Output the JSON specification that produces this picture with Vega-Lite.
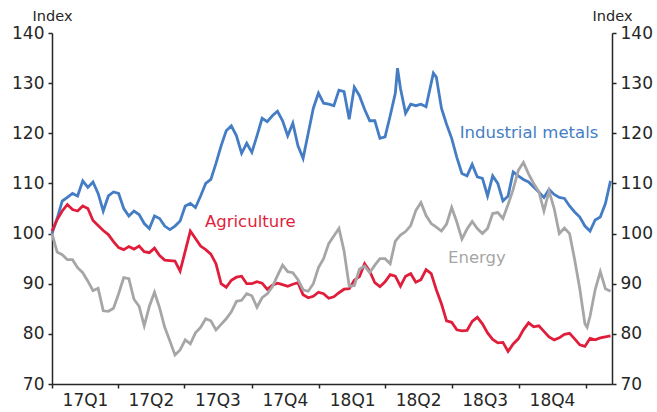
{
"$schema":"https://vega.github.io/schema/vega-lite/v6.json",
"width":560,"height":351,
"autosize":"none",
"padding":{"left":52,"top":33,"right":45,"bottom":28},
"background":"white",
"config":{"view":{"stroke":null},"font":"DejaVu Sans","axis":{"grid":false,"domainColor":"#262626","tickColor":"#262626","labelColor":"#262626","titleColor":"#262626","domainWidth":1.5,"tickWidth":1.5}},
"layer":[
{
"data":{"values":[
{"d":"2017-01-01","m":100,"a":100.5,"e":100},
{"d":"2017-01-08","m":103,"a":102.8,"e":96.3},
{"d":"2017-01-15","m":106.5,"a":104.5,"e":95.8},
{"d":"2017-01-22","m":107.2,"a":105.8,"e":94.8},
{"d":"2017-01-29","m":108,"a":104.8,"e":94.8},
{"d":"2017-02-05","m":107.5,"a":104.5,"e":93.2},
{"d":"2017-02-12","m":110.5,"a":105.5,"e":92.2},
{"d":"2017-02-19","m":109.2,"a":105,"e":90.5},
{"d":"2017-02-26","m":110.3,"a":102.6,"e":88.6},
{"d":"2017-03-05","m":108,"a":101.6,"e":89.1},
{"d":"2017-03-12","m":104.5,"a":100.6,"e":84.6},
{"d":"2017-03-19","m":107.5,"a":99.8,"e":84.5},
{"d":"2017-03-26","m":108.3,"a":98.4,"e":85.1},
{"d":"2017-04-02","m":108,"a":97.2,"e":88},
{"d":"2017-04-09","m":105,"a":96.8,"e":91.2},
{"d":"2017-04-16","m":103.5,"a":97.4,"e":91},
{"d":"2017-04-23","m":104.5,"a":96.9,"e":86.9},
{"d":"2017-04-30","m":103.8,"a":97.5,"e":85.5},
{"d":"2017-05-07","m":102,"a":96.4,"e":81.6},
{"d":"2017-05-14","m":101,"a":96.2,"e":85.5},
{"d":"2017-05-21","m":103.5,"a":97.1,"e":88.3},
{"d":"2017-05-28","m":103,"a":95.6,"e":85.2},
{"d":"2017-06-04","m":101.5,"a":94.7,"e":81.3},
{"d":"2017-06-11","m":100.8,"a":94.6,"e":78.6},
{"d":"2017-06-18","m":101.5,"a":94.5,"e":75.8},
{"d":"2017-06-25","m":102.5,"a":92.5,"e":76.8},
{"d":"2017-07-02","m":105.5,"a":96.5,"e":78.8},
{"d":"2017-07-09","m":106,"a":100.5,"e":78},
{"d":"2017-07-16","m":105.2,"a":99,"e":80.2},
{"d":"2017-07-23","m":107.5,"a":97.5,"e":81.3},
{"d":"2017-07-30","m":110,"a":96.8,"e":83},
{"d":"2017-08-06","m":110.8,"a":95.9,"e":82.6},
{"d":"2017-08-13","m":114,"a":94,"e":80.8},
{"d":"2017-08-20","m":117.5,"a":90,"e":81.9},
{"d":"2017-08-27","m":120.5,"a":89.3,"e":83},
{"d":"2017-09-03","m":121.5,"a":90.7,"e":84.4},
{"d":"2017-09-10","m":119.5,"a":91.3,"e":86.5},
{"d":"2017-09-17","m":116,"a":91.5,"e":86.7},
{"d":"2017-09-24","m":118,"a":90,"e":88},
{"d":"2017-10-01","m":116.2,"a":90,"e":87.6},
{"d":"2017-10-08","m":119.5,"a":90.4,"e":85.3},
{"d":"2017-10-15","m":123,"a":90.1,"e":87.2},
{"d":"2017-10-22","m":122.3,"a":88.9,"e":88},
{"d":"2017-10-29","m":123.5,"a":89.7,"e":89.4},
{"d":"2017-11-05","m":124.4,"a":90.1,"e":91.6},
{"d":"2017-11-12","m":122.5,"a":89.8,"e":93.7},
{"d":"2017-11-19","m":119.5,"a":89.5,"e":92.4},
{"d":"2017-11-26","m":122,"a":89.9,"e":92.2},
{"d":"2017-12-03","m":117.5,"a":90.2,"e":90.8},
{"d":"2017-12-10","m":115,"a":87.8,"e":88.8},
{"d":"2017-12-17","m":120,"a":87.2,"e":88.5},
{"d":"2017-12-24","m":125,"a":87.5,"e":90},
{"d":"2017-12-31","m":128,"a":88.3,"e":93.2},
{"d":"2018-01-07","m":126,"a":88,"e":95},
{"d":"2018-01-14","m":125.8,"a":87.1,"e":98},
{"d":"2018-01-21","m":125.5,"a":87.4,"e":99.5},
{"d":"2018-01-28","m":128.6,"a":88.2,"e":101},
{"d":"2018-02-04","m":128.3,"a":88.9,"e":96.5},
{"d":"2018-02-11","m":122.8,"a":89,"e":89.5},
{"d":"2018-02-18","m":129.2,"a":90.7,"e":89.6},
{"d":"2018-02-25","m":127.5,"a":91.4,"e":92.9},
{"d":"2018-03-04","m":124.8,"a":94,"e":93.5},
{"d":"2018-03-11","m":122.5,"a":92.5,"e":92.2},
{"d":"2018-03-18","m":122.5,"a":90.2,"e":93.7},
{"d":"2018-03-25","m":119,"a":89.4,"e":95},
{"d":"2018-04-01","m":119.3,"a":90.4,"e":95},
{"d":"2018-04-08","m":123.5,"a":91.8,"e":94},
{"d":"2018-04-15","m":128,"a":91.5,"e":98.5},
{"d":"2018-04-18","m":133},
{"d":"2018-04-22","m":129,"a":89.5,"e":99.7},
{"d":"2018-04-29","m":124,"a":91.5,"e":100.4},
{"d":"2018-05-06","m":125.8,"a":92,"e":101.6},
{"d":"2018-05-13","m":125.5,"a":90.3,"e":104.6},
{"d":"2018-05-20","m":125.8,"a":90.8,"e":106.2},
{"d":"2018-05-27","m":125.3,"a":92.8,"e":103.6},
{"d":"2018-06-03","m":130,"a":92,"e":102},
{"d":"2018-06-06","m":132},
{"d":"2018-06-10","m":131.2,"a":88.8,"e":101.3},
{"d":"2018-06-17","m":125,"a":86,"e":100.5},
{"d":"2018-06-24","m":121.8,"a":82.6,"e":101.9},
{"d":"2018-07-01","m":119,"a":82.3,"e":105.2},
{"d":"2018-07-08","m":115.2,"a":80.8,"e":102.3},
{"d":"2018-07-15","m":112,"a":80.6,"e":98.9},
{"d":"2018-07-22","m":111.5,"a":80.7,"e":100.9},
{"d":"2018-07-29","m":113.8,"a":82.5,"e":102.4},
{"d":"2018-08-05","m":111.3,"a":83.3,"e":101},
{"d":"2018-08-12","m":111,"a":82,"e":100},
{"d":"2018-08-19","m":107.5,"a":80.2,"e":101},
{"d":"2018-08-26","m":111.5,"a":78.9,"e":104},
{"d":"2018-09-02","m":110,"a":78.2,"e":104.2},
{"d":"2018-09-09","m":106.5,"a":78.3,"e":103},
{"d":"2018-09-16","m":107.5,"a":76.5,"e":105.8},
{"d":"2018-09-23","m":112.3,"a":78,"e":108.8},
{"d":"2018-09-30","m":111.5,"a":79,"e":112.6},
{"d":"2018-10-07","m":110.8,"a":80.8,"e":114.2},
{"d":"2018-10-14","m":110.3,"a":82.2,"e":111.9},
{"d":"2018-10-21","m":109.3,"a":81.4,"e":110},
{"d":"2018-10-28","m":108.3,"a":81.6,"e":108.4},
{"d":"2018-11-04","m":107.2,"a":80.5,"e":104.5},
{"d":"2018-11-11","m":108.8,"a":79.4,"e":108.5},
{"d":"2018-11-18","m":107.8,"a":78.8,"e":105},
{"d":"2018-11-25","m":107.2,"a":79.2,"e":100},
{"d":"2018-12-02","m":107,"a":79.9,"e":101.1},
{"d":"2018-12-09","m":105.5,"a":80.1,"e":100},
{"d":"2018-12-16","m":104.3,"a":79,"e":94.8},
{"d":"2018-12-23","m":103.3,"a":77.8,"e":89},
{"d":"2018-12-30","m":101.5,"a":77.5,"e":82},
{"d":"2019-01-02","e":81.3},
{"d":"2019-01-06","m":100.5,"a":79.1,"e":83.5},
{"d":"2019-01-13","m":102.7,"a":78.8,"e":88.8},
{"d":"2019-01-20","m":103.3,"a":79.2,"e":92.4},
{"d":"2019-01-27","m":106,"a":79.4,"e":89},
{"d":"2019-02-03","m":110.5,"a":79.6,"e":88.5}
]},
"transform":[{"fold":["m","a","e"],"as":["k","v"]},{"filter":"isValid(datum.v)"}],
"mark":{"type":"line","strokeWidth":2.8},
"encoding":{
"x":{"field":"d","type":"temporal","scale":{"type":"utc","domain":[{"year":2017,"month":1,"date":1,"utc":true},{"year":2019,"month":2,"date":5,"utc":true}]},
"axis":{"title":null,"values":[{"year":2017,"month":1,"date":1,"utc":true},{"year":2017,"month":4,"date":1,"utc":true},{"year":2017,"month":7,"date":1,"utc":true},{"year":2017,"month":10,"date":1,"utc":true},{"year":2018,"month":1,"date":1,"utc":true},{"year":2018,"month":4,"date":1,"utc":true},{"year":2018,"month":7,"date":1,"utc":true},{"year":2018,"month":10,"date":1,"utc":true},{"year":2019,"month":1,"date":1,"utc":true}],
"labelExpr":"utcyear(datum.value) >= 2019 ? '' : utcFormat(datum.value, '%y') + 'Q' + utcquarter(datum.value)",
"labelOffset":33,"labelFlush":false,"labelOverlap":false,"labelBound":false,"tickSize":4,"labelPadding":4,"labelFontSize":17}},
"y":{"field":"v","type":"quantitative","scale":{"domain":[70,140],"nice":false,"zero":false},
"axis":{"orient":"left","title":"Index","titleAngle":0,"titleX":0,"titleY":-17,"titleAlign":"center","titleBaseline":"middle","titleFontSize":14.5,"titleFontWeight":"normal","values":[70,80,90,100,110,120,130,140],"tickSize":4,"labelPadding":4,"labelFontSize":17}},
"color":{"field":"k","type":"nominal","scale":{"domain":["m","a","e"],"range":["#447DC4","#E01E3C","#A6A6A8"]},"legend":null}
}
},
{
"data":{"values":[
{"d":"2018-07-12","v":120.1,"k":"m","t":"Industrial metals"},
{"d":"2017-07-29","v":102.3,"k":"a","t":"Agriculture"},
{"d":"2018-06-26","v":95.1,"k":"e","t":"Energy"}
]},
"mark":{"type":"text","align":"left","baseline":"middle","fontSize":16.5},
"encoding":{
"x":{"field":"d","type":"temporal"},
"y":{"field":"v","type":"quantitative","axis":{"orient":"right","title":"Index","titleAngle":0,"titleX":0,"titleY":-17,"titleAlign":"center","titleBaseline":"middle","titleFontSize":14.5,"titleFontWeight":"normal","values":[70,80,90,100,110,120,130,140],"tickSize":4,"labelPadding":4,"labelFontSize":17}},
"color":{"field":"k","type":"nominal","legend":null},
"text":{"field":"t"}
}
}
],
"resolve":{"axis":{"y":"independent"}}
}
